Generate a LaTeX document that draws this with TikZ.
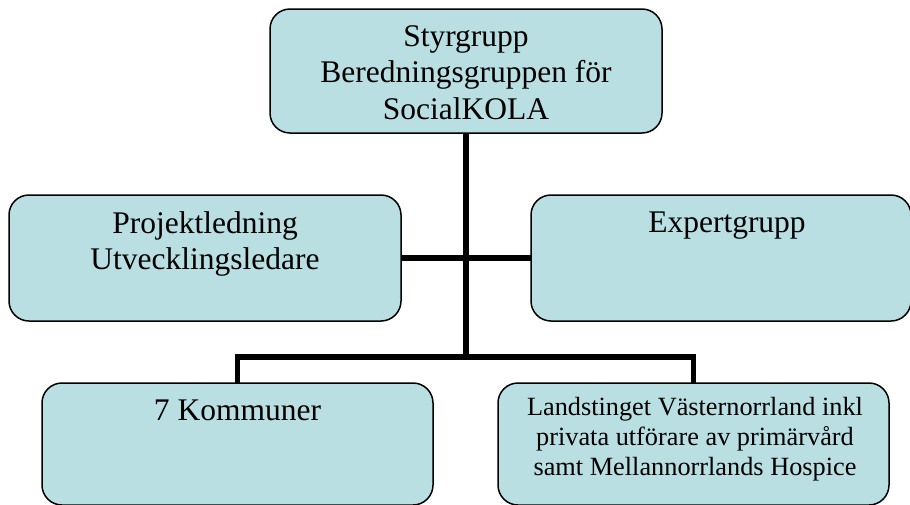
\documentclass[tikz,border=0pt]{standalone}
\usepackage{fontspec}
\setmainfont{Liberation Serif}
\definecolor{boxfill}{RGB}{185,223,227}
\tikzset{
  orgbox/.style={draw=black, line width=1.5pt, fill=boxfill, rounded corners=20pt, inner sep=0pt, outer sep=0pt},
  bigtext/.style={anchor=north, inner sep=0pt, align=center, font=\fontsize{31.5}{36.5}\selectfont},
  smalltext/.style={anchor=north, inner sep=0pt, align=center, font=\fontsize{26.3}{30}\selectfont},
  conn/.style={draw=black, line width=5.5pt}
}
\begin{document}
\begin{tikzpicture}[x=1pt, y=-1pt]
\useasboundingbox (0,0) rectangle (910,504);
% boxes
\node[orgbox, minimum width=392pt, minimum height=124pt] (top) at (466,71) {};
\node[orgbox, minimum width=392pt, minimum height=126pt] (pl) at (205,258) {};
\node[orgbox, minimum width=380pt, minimum height=126pt] (eg) at (721,258) {};
\node[orgbox, minimum width=391pt, minimum height=122pt] (k7) at (237.5,444) {};
\node[orgbox, minimum width=391pt, minimum height=122pt] (lv) at (693.5,444) {};
% texts
\node[bigtext] (toptext) at (466,16) {\rule{0pt}{30pt}Styrgrupp\\Beredningsgruppen för\\SocialKOLA};
\node[bigtext] (pltext) at (205,203) {\rule{0pt}{30pt}Projektledning\\Utvecklingsledare};
\node[bigtext] (egtext) at (727,202) {\rule{0pt}{30pt}Expertgrupp};
\node[bigtext] (k7text) at (237.5,390) {\rule{0pt}{30pt}7 Kommuner};
\node[smalltext] (lvtext) at (695,390) {\rule{0pt}{25pt}Landstinget Västernorrland inkl\\privata utförare av primärvård\\samt Mellannorrlands Hospice};
% connectors
\coordinate (bus) at (466,357);
\draw[conn] (top.south) -- (bus);
\draw[conn] (pl.east) -- (eg.west);
\draw[conn] (k7.north) |- (bus) -| (lv.north);
\end{tikzpicture}
\end{document}
